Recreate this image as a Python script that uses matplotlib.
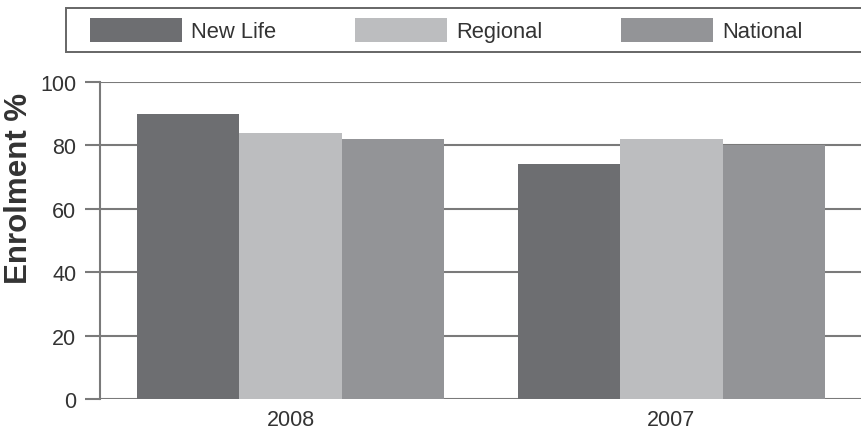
import matplotlib
matplotlib.use("Agg")
import matplotlib.pyplot as plt
from matplotlib.patches import Rectangle, Patch
import numpy as np

years = ["2008", "2007"]
series = ["New Life", "Regional", "National"]
new_life = [90, 74]
regional = [84, 82]
national = [82, 80]
yticks = [0, 20, 40, 60, 80, 100]

colors = ["#6d6e71", "#bcbdbf", "#939497"]
text_color = "#333333"
grid_color = "#7a7a7a"

plt.rcParams["font.family"] = ["Liberation Sans", "DejaVu Sans"]

W, H = 862, 431
fig = plt.figure(figsize=(W / 100, H / 100), dpi=100)
ax = fig.add_axes([100 / W, (H - 400) / H, (W - 100) / W, (400 - 83) / H])

x = np.arange(len(years))
bw = 0.268
vals = [new_life, regional, national]
for i, (name, v, c) in enumerate(zip(series, vals, colors)):
    ax.bar(x + (i - 1) * bw, v, width=bw, color=c, label=name, zorder=3, linewidth=0)

ax.set_xlim(-0.5, 1.5)
ax.set_ylim(0, 100)
ax.set_yticks(yticks)
ax.set_xticks(x)
ax.set_xticklabels(years)
ax.yaxis.grid(True, color=grid_color, linewidth=1.5, zorder=1)
ax.set_axisbelow(True)
for s in ["top", "right", "bottom"]:
    ax.spines[s].set_visible(False)
ax.spines["left"].set_color(grid_color)
ax.spines["left"].set_linewidth(1.5)
ax.tick_params(axis="y", length=11, width=1.5, color=grid_color, pad=6,
               labelsize=15.5, labelcolor=text_color)
ax.tick_params(axis="x", length=0, pad=7, labelsize=15.5, labelcolor=text_color)

ax.set_ylabel("Enrolment %", fontsize=22.5, fontweight="bold", color=text_color)
ax.yaxis.set_label_coords((19 - 100) / (W - 100), (400 - 188) / (400 - 83))
ax.yaxis.label.set_va("center")

# legend frame (extends beyond right edge)
fig.patches.append(Rectangle((66 / W, (H - 52.5) / H), (W + 10 - 66) / W, 43.5 / H,
                             transform=fig.transFigure, facecolor="white",
                             edgecolor="#666666", linewidth=1.4, clip_on=False))
handles = [Patch(facecolor=c, edgecolor="none") for c in colors]
leg = fig.legend(handles, series, loc="center left",
                 bbox_to_anchor=(90 / W, (H - 31) / H), ncol=3, frameon=False,
                 fontsize=15.8, handlelength=4.2, handleheight=1.3,
                 handletextpad=0.4, columnspacing=3.6, borderpad=0,
                 borderaxespad=0)
for t in leg.get_texts():
    t.set_color(text_color)

fig.savefig("out.png", dpi=100)
